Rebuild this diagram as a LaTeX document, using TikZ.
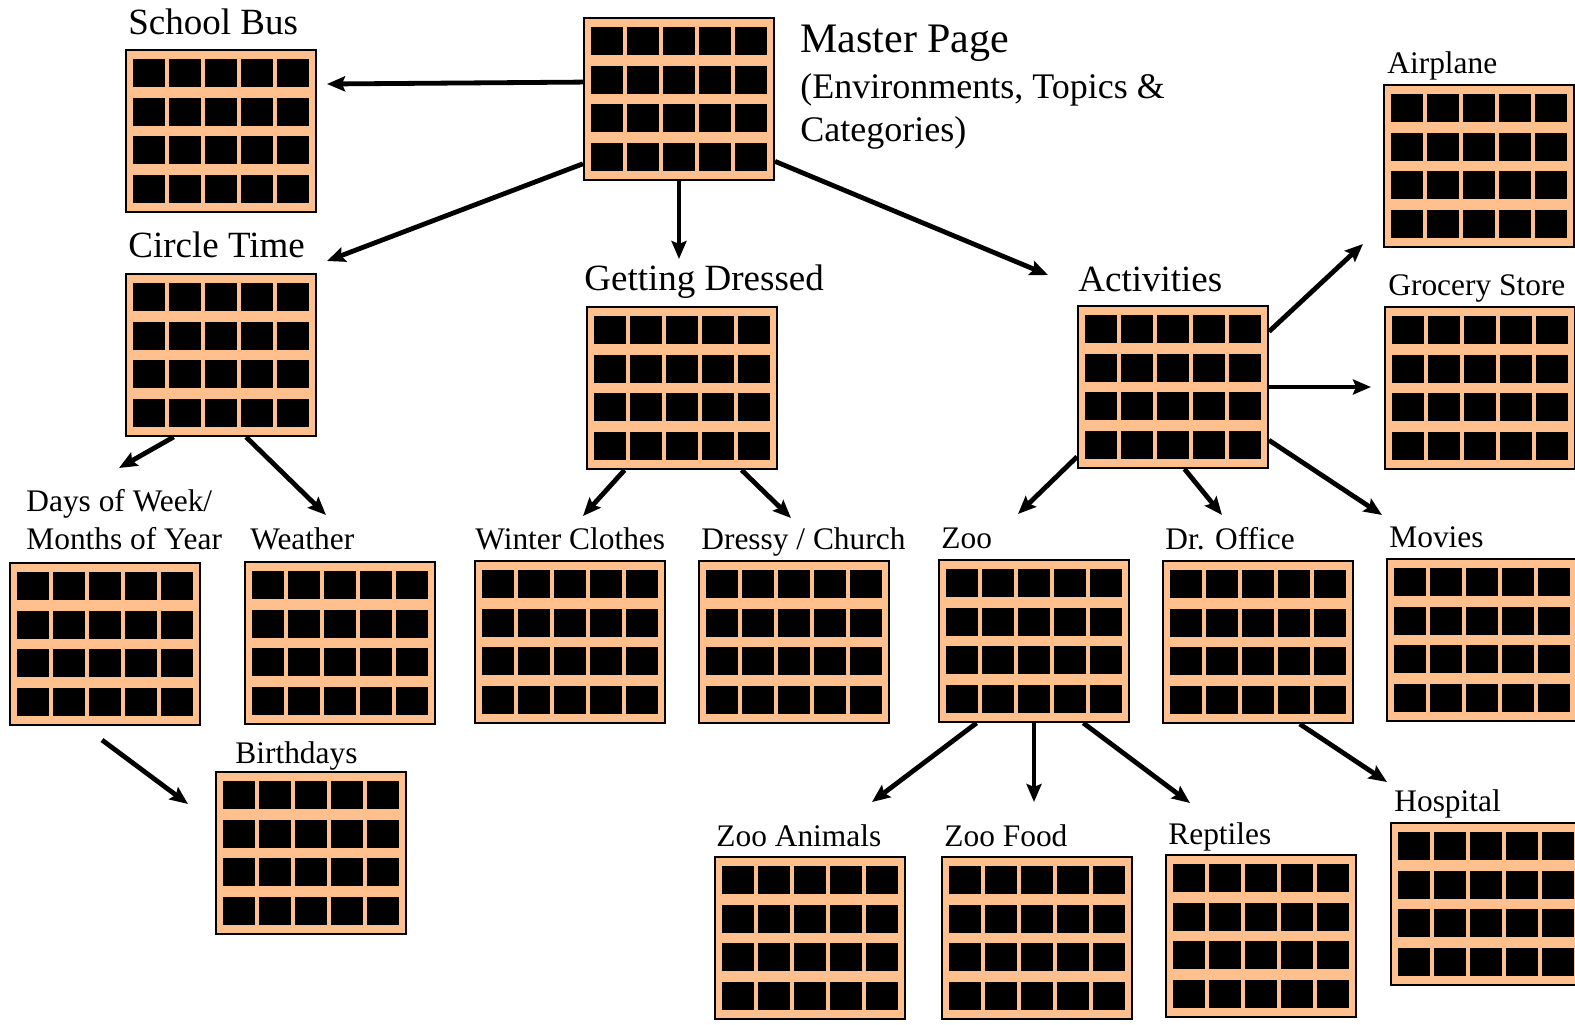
\documentclass[tikz,border=0pt]{standalone}
\usepackage{fontspec}
\setmainfont{Liberation Serif}
\usetikzlibrary{arrows.meta,positioning}
\definecolor{peach}{RGB}{255,192,142}
\def\pagew{95pt}
\def\pageh{81pt}
\def\cellw{16pt}
\def\cellh{14pt}

\begin{document}
\begin{tikzpicture}[x=0.5pt,y=-0.5pt,
    myarrow/.style={-{Stealth[length=9pt,width=7.5pt,inset=1.5pt]},line width=2.4pt,black},
    lbl/.style={font=\fontsize{18.5}{22}\selectfont,inner sep=0pt,anchor=base west},
    slbl/.style={font=\fontsize{15.7}{19}\selectfont,inner sep=0pt,anchor=base west}]
    \tikzstyle{page}=[draw=black,line width=1pt,fill=peach,inner sep=0pt,
        minimum width=\pagew,minimum height=\pageh,anchor=north west,
        path picture={
            \foreach \c in {0,...,4}
                \foreach \r in {0,...,3}
                    \fill[black] ([xshift=3.5pt+\c*18pt,yshift=-4.5pt-\r*19.3pt]path picture bounding box.north west)
                        rectangle ++(\cellw,-\cellh);
        }]

    \useasboundingbox (0,0) rectangle (1575,1024);
    \clip (0,0) rectangle (1575,1024);

    % Draw the pages
    \foreach \name/\x/\y in {master/583/17, bus/125/49, circle/125/273, dressed/586/306,
        activ/1077/305, airplane/1383/84, grocery/1384/306, days/9/562, weather/244/561,
        winter/474/560, dressy/698/560, zoo/938/559, office/1162/560, movies/1386/558,
        birth/215/771, animals/714/856, food/941/856, reptiles/1165/854, hospital/1390/822}
        \node[page] (\name) at (\x,\y) {};

    % Label the pages
    \node[font=\fontsize{21}{25}\selectfont,inner sep=0pt,anchor=base west] (master-l) at (800,52) {Master Page};
    \node[font=\fontsize{18}{21}\selectfont,inner sep=0pt,anchor=base west] (master-l2) at (800,98) {(Environments, Topics \&};
    \node[font=\fontsize{18}{21}\selectfont,inner sep=0pt,anchor=base west] (master-l3) at (800,141) {Categories)};
    \node[lbl] (bus-l) at (128,34) {School Bus};
    \node[lbl] (circle-l) at (128,257) {Circle Time};
    \node[lbl] (dressed-l) at (584,290) {Getting Dressed};
    \node[lbl] (activ-l) at (1078,291) {Activities};
    \node[slbl] (airplane-l) at (1387,73) {Airplane};
    \node[slbl] (grocery-l) at (1388,295) {Grocery Store};
    \node[slbl] (days-l) at (26,511) {Days of Week/};
    \node[slbl] (days-l2) at (26,549) {Months of Year};
    \node[slbl] (weather-l) at (250,549) {Weather};
    \node[slbl] (winter-l) at (475,549) {Winter Clothes};
    \node[slbl] (dressy-l) at (701,549) {Dressy / Church};
    \node[slbl] (zoo-l) at (941,548) {Zoo};
    \node[slbl] (office-l) at (1165,549) {Dr. Office};
    \node[slbl] (movies-l) at (1389,547) {Movies};
    \node[slbl] (birth-l) at (235,763) {Birthdays};
    \node[slbl] (animals-l) at (716,846) {Zoo Animals};
    \node[slbl] (food-l) at (944,846) {Zoo Food};
    \node[slbl] (reptiles-l) at (1168,844) {Reptiles};
    \node[slbl] (hospital-l) at (1394,811) {Hospital};

    % Arrow tips
    \foreach \name/\x/\y in {t-bus/327/84, t-circle/327/261, t-activ/1048/275,
        t-days/119/468, t-weather/326/515, t-winter/583/516, t-dressy/791/518,
        t-airplane/1363/244, t-grocery/1371/387, t-movies/1382/515, t-office/1222/515,
        t-zoo/1018/514, t-animals/872/802, t-reptiles/1190/803,
        t-hospital/1387/782, s-birth/102/740, t-birth/188/804}
        \coordinate (\name) at (\x,\y);
    \coordinate (t-dressed) at (master.south |- 0,259);
    \coordinate (t-food) at (zoo.south |- 0,802);

    % Connect the pages
    \foreach \source/\ang/\dest in {master/170/bus, master/214/circle, master/south/dressed,
        master/327/activ, circle/240/days, circle/287/weather, dressed/235/winter,
        dressed/306/dressy, activ/30/airplane, activ/east/grocery, activ/331/movies,
        activ/278/office, activ/216/zoo, zoo/235.5/animals, zoo/south/food,
        zoo/301/reptiles, office/297/hospital}
        \draw[myarrow] (\source.\ang) -- (t-\dest);
    \draw[myarrow] (s-birth) -- (t-birth);
\end{tikzpicture}
\end{document}
